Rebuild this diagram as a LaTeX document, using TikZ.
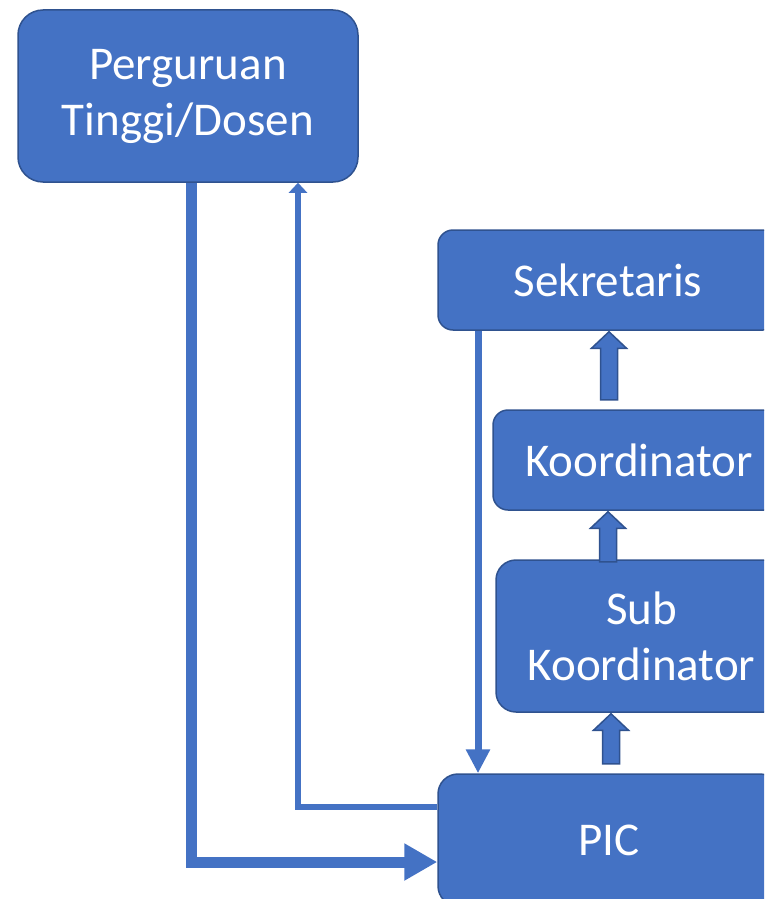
\documentclass[tikz,border=0pt]{standalone}
\usepackage{fontspec}
\setmainfont{Carlito}
\usetikzlibrary{arrows.meta}

\definecolor{boxblue}{HTML}{4472C4}
\definecolor{boxline}{HTML}{2F528F}

\tikzset{
  box/.style={draw=boxline, line width=1.5pt, fill=boxblue, text=white,
    align=center, inner sep=0pt, font=\fontsize{47}{56}\selectfont},
  blockarr/.style={draw=boxline, fill=boxblue, line width=1.5pt, line join=miter},
}

% block arrow pointing up, tip at #1, total length #2
\newcommand\uparr[2]{%
  \draw[blockarr] #1 -- ++(17.5,16.5) -- ++(-9,0) -- ++(0,#2-16.5)
    -- ++(-17,0) -- ++(0,16.5-#2) -- ++(-9,0) -- cycle;}

\begin{document}
\begin{tikzpicture}[x=1pt, y=-1pt]
  \useasboundingbox (0,0) rectangle (764,899);
  \clip (0,0) rectangle (764,899);

  % boxes
  \node[box, minimum width=340pt, minimum height=172pt, rounded corners=25pt]
    (pt) at (188,96) {Perguruan\\Tinggi/Dosen};
  \node[box, minimum width=340pt, minimum height=100pt, rounded corners=15pt]
    (sek) at (608,280) {Sekretaris};
  \node[box, minimum width=292pt, minimum height=100pt, rounded corners=15pt]
    (koor) at (639,460) {Koordinator};
  \node[box, minimum width=291pt, minimum height=152pt, rounded corners=20pt]
    (sub) at (641.5,636) {Sub\\Koordinator};
  \node[box, minimum width=342pt, minimum height=132pt, rounded corners=20pt]
    (pic) at (609,840) {PIC};

  % block arrows
  \uparr{([xshift=1pt,yshift=-1pt]sek.south)}{68}
  \uparr{([xshift=-31pt,yshift=-1pt]koor.south)}{50}
  \uparr{([xshift=-30.5pt,yshift=-1pt]sub.south)}{50}

  % lines
  \draw[boxblue, line width=11pt, -{Triangle[length=33pt,width=35pt]}]
    ([xshift=3.5pt]pt.south) |- ([yshift=-22pt]pic.west);
  \draw[boxblue, line width=6pt, -{Triangle[length=10pt,width=18pt]}]
    ([yshift=33pt]pic.west) -| ([xshift=110pt]pt.south);
  \draw[boxblue, line width=7pt, -{Triangle[length=24pt,width=23pt]}]
    ([xshift=-130pt]sek.south) -- ([xshift=-131pt]pic.north);
\end{tikzpicture}
\end{document}
